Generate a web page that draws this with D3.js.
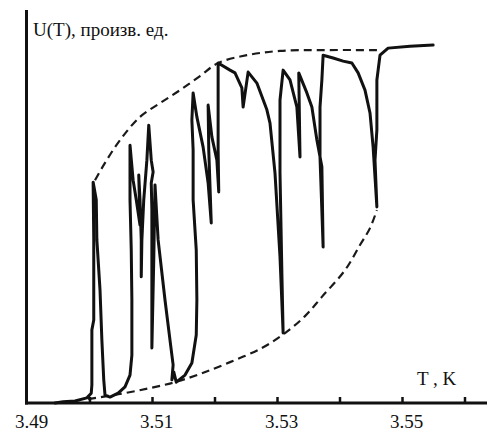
<!DOCTYPE html>
<html>
<head>
<meta charset="utf-8">
<script src="https://cdn.jsdelivr.net/npm/d3@7"></script>
<style>
  body { margin: 0; background: #fff; }
  text { font-family: "Liberation Serif", "DejaVu Serif", serif; fill: #111; }
</style>
</head>
<body>
<svg id="chart" width="487" height="433"></svg>
<script>
// measured trace, T in K, U in arbitrary units (0..100)
var traceT = [3.4944, 3.4957, 3.4976, 3.4995, 3.5002, 3.5003, 3.5003, 3.5006, 3.5006, 3.5005,
  3.5010, 3.5011, 3.5016, 3.5019, 3.5022, 3.5024, 3.5032, 3.5045, 3.5056, 3.5064,
  3.5067, 3.5067, 3.5066, 3.5064, 3.5064, 3.5069, 3.5074, 3.5080, 3.5078, 3.5080,
  3.5082, 3.5082, 3.5083, 3.5086, 3.5091, 3.5094, 3.5098, 3.5101, 3.5098, 3.5099,
  3.5099, 3.5099, 3.5102, 3.5104, 3.5109, 3.5120, 3.5128, 3.5133, 3.5131, 3.5134,
  3.5138, 3.5152, 3.5163, 3.5170, 3.5171, 3.5170, 3.5165, 3.5165, 3.5163, 3.5165,
  3.5171, 3.5181, 3.5189, 3.5194, 3.5190, 3.5189, 3.5195, 3.5203, 3.5206, 3.5205,
  3.5205, 3.5205, 3.5224, 3.5232, 3.5243, 3.5245, 3.5253, 3.5267, 3.5283, 3.5288,
  3.5296, 3.5304, 3.5309, 3.5307, 3.5304, 3.5304, 3.5309, 3.5320, 3.5331, 3.5336,
  3.5334, 3.5347, 3.5355, 3.5363, 3.5371, 3.5373, 3.5368, 3.5368, 3.5371, 3.5373,
  3.5389, 3.5405, 3.5419, 3.5429, 3.5440, 3.5448, 3.5453, 3.5459, 3.5456, 3.5459,
  3.5459, 3.5464, 3.5477, 3.5512, 3.5549];
var traceU = [0, 0.3, 0.5, 1.3, 2.5, 4.6, 18.6, 21.1, 41.5, 56.2,
  51.7, 41.5, 28.8, 16.0, 5.9, 2.0, 1.5, 2.5, 4.1, 7.1,
  12.2, 26.2, 38.9, 51.7, 65.6, 56.7, 51.7, 45.3, 58.0, 51.7,
  41.5, 32.1, 41.5, 51.7, 61.8, 70.7, 61.8, 58.8, 56.0, 49.1,
  30.5, 14.0, 36.4, 55.5, 41.5, 26.2, 16.0, 9.7, 5.9, 7.9,
  5.3, 7.1, 10.2, 17.3, 26.2, 38.9, 51.7, 64.4, 72.0, 78.9,
  72.8, 65.1, 56.0, 45.8, 64.4, 75.8, 67.7, 61.8, 53.7, 64.4,
  77.1, 86.5, 84.7, 84.0, 80.2, 75.3, 84.2, 81.4, 74.6, 71.2,
  58.5, 37.2, 17.8, 33.1, 58.5, 77.1, 84.7, 82.2, 75.3, 62.6,
  84.0, 78.9, 75.3, 66.9, 60.1, 39.7, 62.6, 75.3, 82.2, 88.5,
  87.8, 87.0, 86.5, 84.0, 79.6, 73.8, 65.1, 49.9, 61.8, 69.5,
  82.2, 88.5, 90.3, 90.8, 91.1];

// dashed envelopes
var upperT = [3.5008, 3.5024, 3.5048, 3.5080, 3.5112, 3.5144, 3.5176, 3.5205, 3.5251, 3.5304, 3.5373, 3.5461];
var upperU = [56.7, 61.1, 66.9, 72.8, 76.3, 79.6, 83.2, 86.5, 88.5, 89.6, 89.8, 89.8];
var lowerT = [3.4997, 3.5048, 3.5096, 3.5136, 3.5176, 3.5224, 3.5275, 3.5312, 3.5344, 3.5371, 3.5408, 3.5432, 3.5448, 3.5459];
var lowerU = [1.0, 2.3, 3.8, 5.3, 7.4, 10.4, 14.0, 17.8, 22.1, 27.0, 33.8, 40.2, 44.5, 49.1];

var tickValues = [3.50, 3.51, 3.52, 3.53, 3.54, 3.55, 3.56];
var labelValues = [3.49, 3.51, 3.53, 3.55];

var svg = d3.select("#chart");
var x0 = 27.5, y0 = 403;

var x = d3.scaleLinear().domain([3.49, 3.57]).range([x0, x0 + 500]);
var y = d3.scaleLinear().domain([0, 100]).range([y0, 10]);

var zip = (a, b) => a.map((v, i) => [v, b[i]]);

var line = d3.line().x(d => x(d[0])).y(d => y(d[1]));
var smooth = d3.line().x(d => x(d[0])).y(d => y(d[1])).curve(d3.curveCatmullRom.alpha(0.5));

// envelopes
[zip(upperT, upperU), zip(lowerT, lowerU)].forEach(function(pts) {
  svg.append("path")
    .attr("d", smooth(pts))
    .attr("fill", "none")
    .attr("stroke", "#1a1a1a")
    .attr("stroke-width", 2.2)
    .attr("stroke-dasharray", "8,5");
});

// trace
svg.append("path")
  .attr("d", line(zip(traceT, traceU)))
  .attr("fill", "none")
  .attr("stroke", "#111")
  .attr("stroke-width", 3)
  .attr("stroke-linejoin", "round")
  .attr("stroke-linecap", "round");

// axes
svg.append("line")
  .attr("x1", x0 - 1).attr("x2", x0 - 1)
  .attr("y1", 10).attr("y2", y0 + 1.5)
  .attr("stroke", "#111").attr("stroke-width", 3);
svg.append("line")
  .attr("x1", x0 - 2.5).attr("x2", 487)
  .attr("y1", y0).attr("y2", y0)
  .attr("stroke", "#111").attr("stroke-width", 3);

svg.selectAll(".tick")
  .data(tickValues)
  .join("line")
  .attr("class", "tick")
  .attr("x1", d => x(d)).attr("x2", d => x(d))
  .attr("y1", y0).attr("y2", y0 - 6)
  .attr("stroke", "#111").attr("stroke-width", 2.5);

svg.selectAll(".tlab")
  .data(labelValues)
  .join("text")
  .attr("class", "tlab")
  .attr("x", d => x(d) + 4)
  .attr("y", 428)
  .attr("text-anchor", "middle")
  .style("font-size", "19px")
  .text(d => d.toFixed(2));

svg.append("text")
  .attr("x", 33).attr("y", 36)
  .style("font-size", "19px")
  .text("U(T), произв. ед.");

svg.append("text")
  .attr("x", 417).attr("y", 385)
  .style("font-size", "19px")
  .text("T , K");
</script>
</body>
</html>
